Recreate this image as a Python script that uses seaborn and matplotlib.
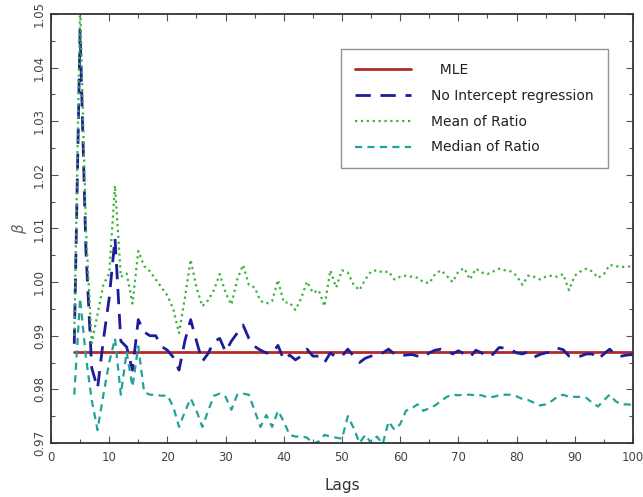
import numpy as np
import pandas as pd
import matplotlib
matplotlib.use("Agg")
import matplotlib.pyplot as plt
from matplotlib.ticker import MultipleLocator, FormatStrFormatter
import seaborn as sns

lags = list(range(4, 101))

mle_beta = 0.9869

no_intercept = [
    0.9885, 1.047, 1.006, 0.984, 0.9802, 0.9892, 0.997, 1.0082, 0.989, 0.9879,
    0.9836, 0.993, 0.9907, 0.990, 0.990, 0.988, 0.9873, 0.986, 0.9836, 0.989,
    0.993, 0.989, 0.9852, 0.9867, 0.9889, 0.9895, 0.987, 0.989, 0.9905, 0.992,
    0.9895, 0.988, 0.9873, 0.9868, 0.9867, 0.9882, 0.9855, 0.9864, 0.9855, 0.9862,
    0.9875, 0.9862, 0.9862, 0.985, 0.9868, 0.986, 0.9862, 0.9875, 0.9862, 0.985,
    0.9858, 0.9862, 0.9866, 0.9868, 0.9875, 0.9866, 0.9862, 0.9864, 0.9865, 0.9862,
    0.986, 0.9868, 0.9873, 0.9875, 0.9873, 0.9866, 0.9872, 0.9866, 0.986, 0.9873,
    0.9868, 0.986, 0.9866, 0.9878, 0.9877, 0.9874, 0.9868, 0.9866, 0.987, 0.986,
    0.9865, 0.9868, 0.987, 0.9877, 0.9874, 0.9862, 0.986, 0.9862, 0.9866, 0.9866,
    0.9856, 0.9866, 0.9875, 0.9864, 0.9862, 0.9864, 0.9865,
]

mean_ratio = [
    0.990, 1.052, 1.010, 0.9886, 0.994, 0.9995, 1.0016, 1.018, 1.001, 1.0016,
    0.996, 1.0058, 1.003, 1.002, 1.0005, 0.999, 0.9975, 0.995, 0.9905, 0.997,
    1.0042, 0.999, 0.9955, 0.9966, 0.9985, 1.0015, 0.998, 0.9958, 1.0005, 1.0032,
    0.9995, 0.999, 0.9965, 0.996, 0.9965, 1.0004, 0.9962, 0.9962, 0.9948, 0.997,
    1.0001, 0.998, 0.9985, 0.9955, 1.0022, 0.999, 1.0022, 1.0018, 0.9995, 0.9985,
    1.0005, 1.002, 1.0022, 1.0018, 1.002, 1.0005, 1.001, 1.0012, 1.001, 1.0008,
    1.000, 0.9998, 1.0015, 1.0022, 1.0012, 1.000, 1.002, 1.0026, 1.0005, 1.0025,
    1.0018, 1.0015, 1.002, 1.0025, 1.0022, 1.002, 1.0012, 0.9995, 1.0012, 1.001,
    1.0005, 1.001, 1.0012, 1.001, 1.0015, 0.9985, 1.0012, 1.002, 1.0025, 1.002,
    1.0008, 1.0015, 1.0032, 1.003, 1.0028, 1.0029, 1.0029,
]

median_ratio = [
    0.979, 0.997, 0.986, 0.978, 0.9724, 0.979, 0.985, 0.9895, 0.979, 0.987,
    0.9805, 0.988, 0.9795, 0.979, 0.979, 0.9788, 0.9789, 0.9768, 0.973, 0.9758,
    0.9783, 0.976, 0.973, 0.976, 0.9788, 0.9792, 0.9786, 0.9762, 0.979, 0.9792,
    0.979, 0.976, 0.973, 0.9752, 0.973, 0.976, 0.974, 0.9715, 0.9712, 0.9712,
    0.971, 0.9698, 0.9703, 0.9715, 0.9712, 0.971, 0.9708, 0.975, 0.9728, 0.970,
    0.9715, 0.970, 0.9712, 0.9698, 0.974, 0.9725, 0.9735, 0.976, 0.9765, 0.9772,
    0.976, 0.9765, 0.977, 0.9778, 0.9786, 0.979, 0.9789, 0.979, 0.979, 0.9789,
    0.9789, 0.9785, 0.9786, 0.9789, 0.979, 0.979, 0.9787, 0.9782, 0.978, 0.9775,
    0.977, 0.9772, 0.9778, 0.9786, 0.979, 0.9786, 0.9786, 0.9786, 0.9784, 0.9775,
    0.9768, 0.978, 0.979, 0.9778, 0.9772, 0.9772, 0.9771,
]

x_ticks = [0, 10, 20, 30, 40, 50, 60, 70, 80, 90, 100]
y_ticks = [0.97, 0.98, 0.99, 1.00, 1.01, 1.02, 1.03, 1.04, 1.05]

sns.set_theme(style="white")
plt.rcParams["font.family"] = ["DejaVu Sans"]

fig = plt.figure(figsize=(6.43, 4.97), dpi=100)
ax = fig.add_axes([0.0793, 0.1087, 0.9051, 0.8631])

mle_line = [mle_beta] * len(lags)

sns.lineplot(x=lags, y=mle_line, ax=ax, color="#b22a2a", linewidth=2.0,
             label="  MLE")
sns.lineplot(x=lags, y=no_intercept, ax=ax, color="#1c1c9c", linewidth=2.0,
             label="No Intercept regression")
ax.lines[-1].set_dashes((5.5, 3.5))
sns.lineplot(x=lags, y=mean_ratio, ax=ax, color="#3cb23c", linewidth=1.6,
             linestyle=":", label="Mean of Ratio")
sns.lineplot(x=lags, y=median_ratio, ax=ax, color="#22a39a", linewidth=1.6,
             label="Median of Ratio")
ax.lines[-1].set_dashes((3.2, 2.4))

ax.set_xlim(0, 100)
ax.set_ylim(0.97, 1.05)
ax.set_xticks(x_ticks)
ax.set_yticks(y_ticks)
ax.xaxis.set_minor_locator(MultipleLocator(5))
ax.yaxis.set_minor_locator(MultipleLocator(0.005))
ax.yaxis.set_major_formatter(FormatStrFormatter("%.2f"))

tick_color = "#444444"
ax.tick_params(axis="both", which="both", direction="in", top=True, right=True,
               bottom=True, left=True, colors="#555555", labelcolor=tick_color,
               labelsize=8.5)
ax.tick_params(which="major", length=5, width=0.8)
ax.tick_params(which="minor", length=3, width=0.8)
ax.tick_params(axis="x", pad=6)
for lbl in ax.get_yticklabels():
    lbl.set_rotation(90)
    lbl.set_va("center")

for side in ax.spines.values():
    side.set_color("#333333")
    side.set_linewidth(1.3)

ax.set_xlabel("Lags", fontsize=11, color="#333333", labelpad=10)
ax.set_ylabel(r"$\beta$", fontsize=11, color="#666666")
ax.yaxis.set_label_coords(-0.037, 0.5)

leg = ax.legend(loc="upper right", bbox_to_anchor=(0.957, 0.918),
                fontsize=10, frameon=True, fancybox=False, handlelength=4.0,
                borderpad=1.0, labelspacing=0.85, handletextpad=1.5,
                borderaxespad=0.0)
leg.get_frame().set_edgecolor("#777777")
leg.get_frame().set_linewidth(1.0)
for t in leg.get_texts():
    t.set_color("#222222")

fig.savefig("out.png", dpi=100)
